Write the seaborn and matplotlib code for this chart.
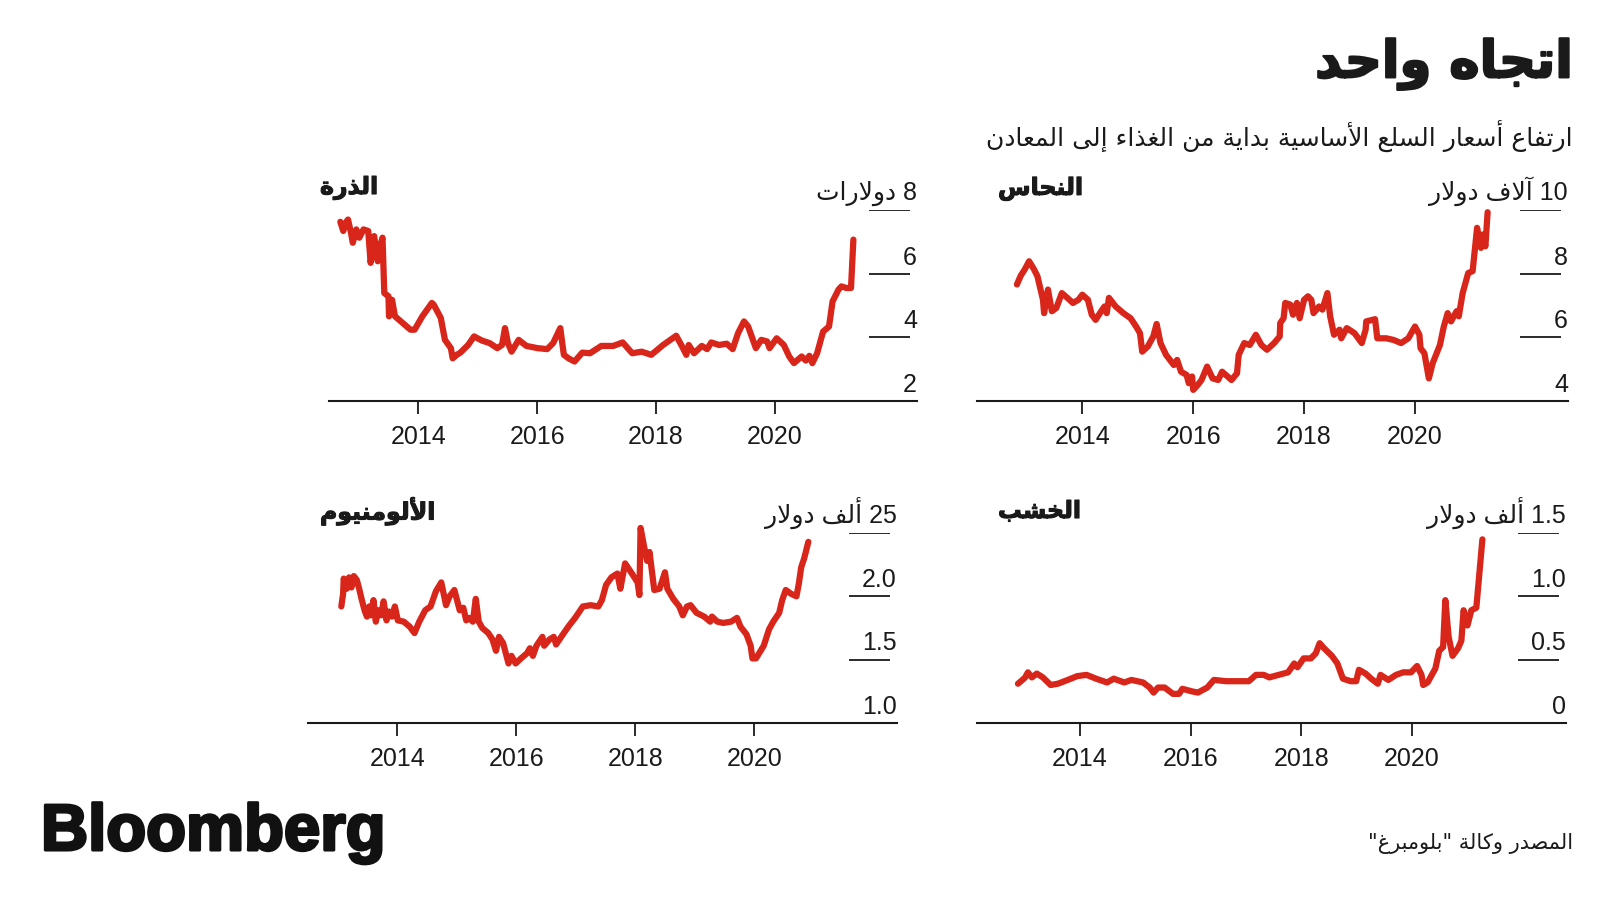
import matplotlib
matplotlib.use("Agg")
import matplotlib.pyplot as plt
import matplotlib.patheffects as pe
import seaborn as sns
import pandas as pd

# ---- text ----
title = "اتجاه واحد"
subtitle = "ارتفاع أسعار السلع الأساسية بداية من الغذاء إلى المعادن"
source = 'المصدر وكالة "بلومبرغ"'
logo = "Bloomberg"

year_ticks = [2014, 2016, 2018, 2020]

# ---- copper (thousand dollars) ----
copper_name = "النحاس"
copper_unit = "آلاف دولار"
copper_ticks = [4, 6, 8, 10]
copper_labels = ["4", "6", "8", "10"]
copper_x = [2012.82, 2012.89, 2012.96, 2013.04, 2013.13, 2013.19, 2013.29, 2013.31, 2013.38, 2013.45,
            2013.53, 2013.63, 2013.73, 2013.83, 2013.93, 2014.0, 2014.10, 2014.17, 2014.24, 2014.34,
            2014.40, 2014.44, 2014.48, 2014.60, 2014.74, 2014.87, 2014.97, 2015.04, 2015.08, 2015.18,
            2015.28, 2015.34, 2015.41, 2015.51, 2015.65, 2015.71, 2015.78, 2015.88, 2015.92, 2015.98,
            2016.0, 2016.08, 2016.15, 2016.25, 2016.35, 2016.45, 2016.52, 2016.62, 2016.69, 2016.79,
            2016.82, 2016.92, 2017.02, 2017.13, 2017.23, 2017.33, 2017.46, 2017.56, 2017.57, 2017.63,
            2017.66, 2017.75, 2017.80, 2017.87, 2017.92, 2018.0, 2018.07, 2018.13, 2018.17, 2018.27,
            2018.33, 2018.42, 2018.47, 2018.54, 2018.64, 2018.67, 2018.77, 2018.91, 2019.04, 2019.11,
            2019.12, 2019.28, 2019.32, 2019.48, 2019.61, 2019.75, 2019.88, 2020.0, 2020.08, 2020.10,
            2020.17, 2020.25, 2020.32, 2020.45, 2020.52, 2020.59, 2020.65, 2020.75, 2020.79, 2020.86,
            2020.96, 2021.04, 2021.12, 2021.19, 2021.22, 2021.27, 2021.31]
copper_y = [7.66, 7.94, 8.13, 8.39, 8.13, 7.92, 7.18, 6.76, 7.50, 6.82,
            6.92, 7.39, 7.24, 7.08, 7.18, 7.34, 7.18, 6.71, 6.55, 6.82,
            6.97, 6.76, 7.24, 6.97, 6.76, 6.60, 6.34, 6.13, 5.55, 5.71,
            6.03, 6.42, 5.82, 5.45, 5.13, 5.29, 4.92, 4.82, 4.56, 4.77,
            4.35, 4.50, 4.66, 5.08, 4.71, 4.66, 4.92, 4.77, 4.66, 4.87,
            5.45, 5.82, 5.76, 6.08, 5.76, 5.61, 5.82, 6.03, 6.45, 6.60,
            7.08, 7.03, 6.71, 7.08, 6.60, 7.18, 7.29, 7.18, 6.76, 6.97,
            6.87, 7.39, 6.66, 6.08, 6.24, 5.97, 6.29, 6.13, 5.82, 6.24,
            6.50, 6.57, 5.97, 5.97, 5.92, 5.82, 5.97, 6.34, 6.08, 5.66,
            5.50, 4.71, 5.19, 5.76, 6.34, 6.76, 6.50, 6.82, 6.66, 7.39,
            8.02, 8.08, 9.44, 8.81, 9.23, 8.86, 9.93]

# ---- corn (dollars) ----
corn_name = "الذرة"
corn_unit = "دولارات"
corn_ticks = [2, 4, 6, 8]
corn_labels = ["2", "4", "6", "8"]
corn_x = [2012.69, 2012.74, 2012.78, 2012.82, 2012.87, 2012.90, 2012.96, 2013.01, 2013.08, 2013.16,
          2013.20, 2013.26, 2013.32, 2013.35, 2013.40, 2013.43, 2013.50, 2013.51, 2013.56, 2013.61,
          2013.74, 2013.87, 2013.94, 2014.07, 2014.23, 2014.26, 2014.38, 2014.45, 2014.55, 2014.58,
          2014.65, 2014.71, 2014.84, 2014.94, 2015.07, 2015.20, 2015.33, 2015.41, 2015.46, 2015.51,
          2015.57, 2015.69, 2015.82, 2016.01, 2016.17, 2016.27, 2016.39, 2016.45, 2016.53, 2016.63,
          2016.76, 2016.89, 2017.08, 2017.28, 2017.44, 2017.60, 2017.76, 2017.92, 2018.12, 2018.34,
          2018.44, 2018.51, 2018.55, 2018.64, 2018.77, 2018.86, 2018.93, 2019.06, 2019.19, 2019.29,
          2019.38, 2019.48, 2019.55, 2019.68, 2019.77, 2019.87, 2019.91, 2020.03, 2020.15, 2020.24,
          2020.32, 2020.45, 2020.52, 2020.58, 2020.63, 2020.71, 2020.81, 2020.91, 2020.97, 2021.07,
          2021.12, 2021.20, 2021.28, 2021.32]
corn_y = [7.63, 7.34, 7.60, 7.70, 7.28, 6.97, 7.39, 7.13, 7.39, 7.34,
          6.34, 7.18, 6.39, 6.81, 7.13, 5.39, 5.29, 4.66, 5.18, 4.66,
          4.45, 4.24, 4.24, 4.66, 5.08, 5.03, 4.61, 3.92, 3.66, 3.34,
          3.45, 3.52, 3.76, 4.03, 3.90, 3.82, 3.66, 3.76, 4.29, 3.82,
          3.55, 3.92, 3.73, 3.66, 3.63, 3.82, 4.29, 3.45, 3.34, 3.24,
          3.52, 3.50, 3.73, 3.73, 3.84, 3.50, 3.55, 3.45, 3.76, 4.05,
          3.71, 3.45, 3.76, 3.50, 3.73, 3.63, 3.84, 3.76, 3.80, 3.63,
          4.13, 4.50, 4.34, 3.66, 3.92, 3.87, 3.66, 3.97, 3.76, 3.40,
          3.19, 3.40, 3.27, 3.42, 3.19, 3.50, 4.18, 4.34, 5.13, 5.50,
          5.60, 5.55, 5.55, 7.07]

# ---- lumber (thousand dollars) ----
lumber_name = "الخشب"
lumber_unit = "ألف دولار"
lumber_ticks = [0, 0.5, 1.0, 1.5]
lumber_labels = ["0", "0.5", "1.0", "1.5"]
lumber_x = [2012.88, 2012.96, 2013.01, 2013.06, 2013.13, 2013.22, 2013.33, 2013.47, 2013.60, 2013.78,
            2013.95, 2014.12, 2014.29, 2014.49, 2014.61, 2014.80, 2014.93, 2015.14, 2015.26, 2015.33,
            2015.41, 2015.53, 2015.68, 2015.79, 2015.85, 2016.02, 2016.13, 2016.30, 2016.42, 2016.64,
            2017.05, 2017.18, 2017.32, 2017.42, 2017.59, 2017.76, 2017.87, 2017.93, 2018.04, 2018.17,
            2018.26, 2018.33, 2018.41, 2018.55, 2018.65, 2018.75, 2018.89, 2018.99, 2019.04, 2019.16,
            2019.26, 2019.38, 2019.43, 2019.57, 2019.71, 2019.84, 2019.98, 2020.09, 2020.17, 2020.20,
            2020.28, 2020.42, 2020.49, 2020.56, 2020.60, 2020.66, 2020.73, 2020.83, 2020.89, 2020.93,
            2021.00, 2021.07, 2021.16, 2021.27]
lumber_y = [0.31, 0.34, 0.36, 0.40, 0.36, 0.39, 0.36, 0.30, 0.31, 0.34,
            0.37, 0.38, 0.35, 0.32, 0.35, 0.32, 0.34, 0.32, 0.28, 0.24,
            0.28, 0.28, 0.23, 0.23, 0.27, 0.25, 0.24, 0.28, 0.34, 0.33,
            0.33, 0.38, 0.38, 0.36, 0.38, 0.40, 0.47, 0.44, 0.51, 0.51,
            0.55, 0.63, 0.59, 0.53, 0.47, 0.35, 0.33, 0.33, 0.42, 0.39,
            0.35, 0.31, 0.38, 0.34, 0.38, 0.40, 0.40, 0.45, 0.38, 0.30,
            0.32, 0.43, 0.57, 0.60, 0.97, 0.68, 0.53, 0.59, 0.65, 0.89,
            0.77, 0.89, 0.91, 1.45]

# ---- aluminium (thousand dollars) ----
alu_name = "الألومنيوم"
alu_unit = "ألف دولار"
alu_ticks = [1.0, 1.5, 2.0, 2.5]
alu_labels = ["1.0", "1.5", "2.0", "25"]
alu_x = [2013.06, 2013.09, 2013.10, 2013.15, 2013.19, 2013.23, 2013.27, 2013.32, 2013.36, 2013.40,
         2013.45, 2013.49, 2013.53, 2013.56, 2013.60, 2013.64, 2013.68, 2013.73, 2013.77, 2013.82,
         2013.86, 2013.91, 2013.96, 2014.01, 2014.11, 2014.21, 2014.29, 2014.37, 2014.47, 2014.56,
         2014.65, 2014.74, 2014.82, 2014.88, 2014.96, 2015.05, 2015.11, 2015.16, 2015.21, 2015.27,
         2015.32, 2015.37, 2015.43, 2015.53, 2015.60, 2015.66, 2015.71, 2015.78, 2015.87, 2015.92,
         2015.99, 2016.08, 2016.18, 2016.23, 2016.28, 2016.34, 2016.44, 2016.47, 2016.56, 2016.63,
         2016.67, 2016.80, 2016.89, 2016.99, 2017.12, 2017.25, 2017.38, 2017.44, 2017.51, 2017.60,
         2017.70, 2017.75, 2017.83, 2017.93, 2018.04, 2018.07, 2018.09, 2018.15, 2018.20, 2018.24,
         2018.32, 2018.41, 2018.50, 2018.54, 2018.64, 2018.74, 2018.80, 2018.87, 2018.93, 2019.03,
         2019.16, 2019.26, 2019.29, 2019.38, 2019.48, 2019.61, 2019.71, 2019.77, 2019.87, 2019.94,
         2019.97, 2020.03, 2020.16, 2020.25, 2020.32, 2020.42, 2020.47, 2020.53, 2020.62, 2020.71,
         2020.75, 2020.79, 2020.84, 2020.91]
alu_y = [1.92, 2.02, 2.14, 2.06, 2.15, 2.07, 2.16, 2.13, 2.06, 1.98,
         1.89, 1.84, 1.92, 1.85, 1.97, 1.80, 1.89, 1.85, 1.96, 1.81,
         1.88, 1.84, 1.92, 1.81, 1.80, 1.76, 1.71, 1.80, 1.89, 1.92,
         2.04, 2.11, 1.93, 2.00, 2.05, 1.89, 1.91, 1.81, 1.83, 1.80,
         1.98, 1.80, 1.75, 1.71, 1.66, 1.57, 1.68, 1.63, 1.47, 1.53,
         1.47, 1.51, 1.55, 1.59, 1.53, 1.61, 1.68, 1.61, 1.66, 1.68,
         1.62, 1.71, 1.77, 1.83, 1.92, 1.93, 1.92, 1.97, 2.09, 2.15,
         2.18, 2.06, 2.26, 2.19, 2.11, 2.01, 2.54, 2.39, 2.28, 2.35,
         2.05, 2.06, 2.19, 2.06, 1.98, 1.92, 1.85, 1.92, 1.93, 1.87,
         1.84, 1.80, 1.84, 1.80, 1.79, 1.80, 1.83, 1.76, 1.70, 1.61,
         1.51, 1.51, 1.61, 1.74, 1.80, 1.87, 1.97, 2.05, 2.02, 2.00,
         2.10, 2.23, 2.30, 2.43]


# ---- minimal Arabic shaping (matplotlib does no text shaping) ----
FORMS = {
    'ء': (0xFE80, 1), 'آ': (0xFE81, 2), 'أ': (0xFE83, 2), 'ؤ': (0xFE85, 2),
    'إ': (0xFE87, 2), 'ئ': (0xFE89, 4), 'ا': (0xFE8D, 2), 'ب': (0xFE8F, 4),
    'ة': (0xFE93, 2), 'ت': (0xFE95, 4), 'ث': (0xFE99, 4), 'ج': (0xFE9D, 4),
    'ح': (0xFEA1, 4), 'خ': (0xFEA5, 4), 'د': (0xFEA9, 2), 'ذ': (0xFEAB, 2),
    'ر': (0xFEAD, 2), 'ز': (0xFEAF, 2), 'س': (0xFEB1, 4), 'ش': (0xFEB5, 4),
    'ص': (0xFEB9, 4), 'ض': (0xFEBD, 4), 'ط': (0xFEC1, 4), 'ظ': (0xFEC5, 4),
    'ع': (0xFEC9, 4), 'غ': (0xFECD, 4), 'ف': (0xFED1, 4), 'ق': (0xFED5, 4),
    'ك': (0xFED9, 4), 'ل': (0xFEDD, 4), 'م': (0xFEE1, 4), 'ن': (0xFEE5, 4),
    'ه': (0xFEE9, 4), 'و': (0xFEED, 2), 'ى': (0xFEEF, 2), 'ي': (0xFEF1, 4),
}
LAM_ALEF = {'آ': 0xFEF5, 'أ': 0xFEF7, 'إ': 0xFEF9, 'ا': 0xFEFB}


def shape_word(word):
    units = []
    i = 0
    while i < len(word):
        c = word[i]
        if c == 'ل' and i + 1 < len(word) and word[i + 1] in LAM_ALEF:
            units.append((LAM_ALEF[word[i + 1]], 2))
            i += 2
        elif c in FORMS:
            units.append(FORMS[c])
            i += 1
        else:
            units.append((c, 0))
            i += 1
    out = []
    for k, (base, n) in enumerate(units):
        if n == 0:
            out.append(base)
            continue
        prev_joins = k > 0 and units[k - 1][1] == 4 and n >= 2
        next_joins = n == 4 and k + 1 < len(units) and units[k + 1][1] >= 2
        if prev_joins and next_joins:
            off = 3
        elif prev_joins:
            off = 1
        elif next_joins:
            off = 2
        else:
            off = 0
        out.append(chr(base + off))
    return ''.join(reversed(out))


def ar(text):
    words = []
    for w in text.split(' '):
        if any(c in FORMS for c in w):
            words.append(shape_word(w))
        else:
            words.append(w)
    return ' '.join(reversed(words))


# ---- style ----
sns.set_theme(style="white")
plt.rcParams['font.family'] = ['Liberation Sans', 'DejaVu Sans']
RED = "#d8261b"
INK = "#1a1a1a"

fig = plt.figure(figsize=(16, 9), dpi=100)
W, H = 1600, 900

panels = [
    # name, unit, x, y, ticks, labels, px-left, px-right, px-baseline, px-top, xlim, title x, title y
    (copper_name, copper_unit, copper_x, copper_y, copper_ticks, copper_labels,
     977, 1568, 401, 210, (2012.10, 2022.76), 998, 188),
    (corn_name, corn_unit, corn_x, corn_y, corn_ticks, corn_labels,
     329, 917, 401, 210, (2012.50, 2022.39), 320, 188),
    (lumber_name, lumber_unit, lumber_x, lumber_y, lumber_ticks, lumber_labels,
     977, 1566, 723, 533, (2012.14, 2022.78), 998, 511),
    (alu_name, alu_unit, alu_x, alu_y, alu_ticks, alu_labels,
     308, 897, 723, 533, (2012.50, 2022.40), 320, 511),
]

for name, unit, xs, ys, ticks, labels, l, r, b, t, xlim, tx, ty in panels:
    ax = fig.add_axes([l / W, (H - b) / H, (r - l) / W, (b - t) / H])
    df = pd.DataFrame({"year": xs, "value": ys})
    sns.lineplot(data=df, x="year", y="value", ax=ax, color=RED, linewidth=4.5)
    ax.lines[-1].set_clip_on(False)
    ax.lines[-1].set_solid_joinstyle("round")
    ax.lines[-1].set_solid_capstyle("round")
    ax.set_xlim(*xlim)
    ax.set_ylim(ticks[0], ticks[-1])
    ax.set_xlabel("")
    ax.set_ylabel("")
    ax.set_yticks([])
    ax.set_xticks(year_ticks)
    ax.set_xticklabels([str(y) for y in year_ticks])
    for s in ["left", "right", "top"]:
        ax.spines[s].set_visible(False)
    ax.spines["bottom"].set_color(INK)
    ax.spines["bottom"].set_linewidth(1.5)
    ax.tick_params(axis="x", direction="out", length=9, width=1.3, color=INK,
                   labelsize=18, labelcolor=INK, pad=8, bottom=True)
    ax.patch.set_alpha(0)

    # short right-side grid segments with labels sitting above them
    yt = ax.get_yaxis_transform()
    ax.hlines(ticks[1:], 0.918, 0.988, transform=yt, color=INK, linewidth=1.3)
    for k, (tv, lab) in enumerate(zip(ticks, labels)):
        s = lab
        if k == len(ticks) - 1:
            s = ar(lab + " " + unit)
        ax.annotate(s, xy=(1.0, tv), xycoords=yt, xytext=(0, 3),
                    textcoords="offset points", ha="right", va="bottom",
                    fontsize=18, color=INK)

    fig.text(tx / W, (H - ty) / H, ar(name), ha="left", va="center",
             fontsize=17, fontweight="bold", color=INK, family="DejaVu Sans",
             path_effects=[pe.withStroke(linewidth=0.8, foreground=INK)])

fig.text(1573 / W, (H - 64) / H, ar(title), ha="right", va="center",
         fontsize=37, fontweight="bold", color=INK, family="DejaVu Sans",
         path_effects=[pe.withStroke(linewidth=1.6, foreground=INK)])
fig.text(1573 / W, (H - 136) / H, ar(subtitle), ha="right", va="center",
         fontsize=18, color=INK, family="DejaVu Sans")
fig.text(1573 / W, (H - 843) / H, ar(source), ha="right", va="center",
         fontsize=15, color=INK, family="DejaVu Sans")
fig.text(41 / W, (H - 850) / H, logo, ha="left", va="baseline",
         fontsize=47, fontweight="bold", color="#111111", family="Liberation Sans",
         path_effects=[pe.withStroke(linewidth=2.2, foreground="#111111")])

fig.savefig("out.png", dpi=100, facecolor="white")
